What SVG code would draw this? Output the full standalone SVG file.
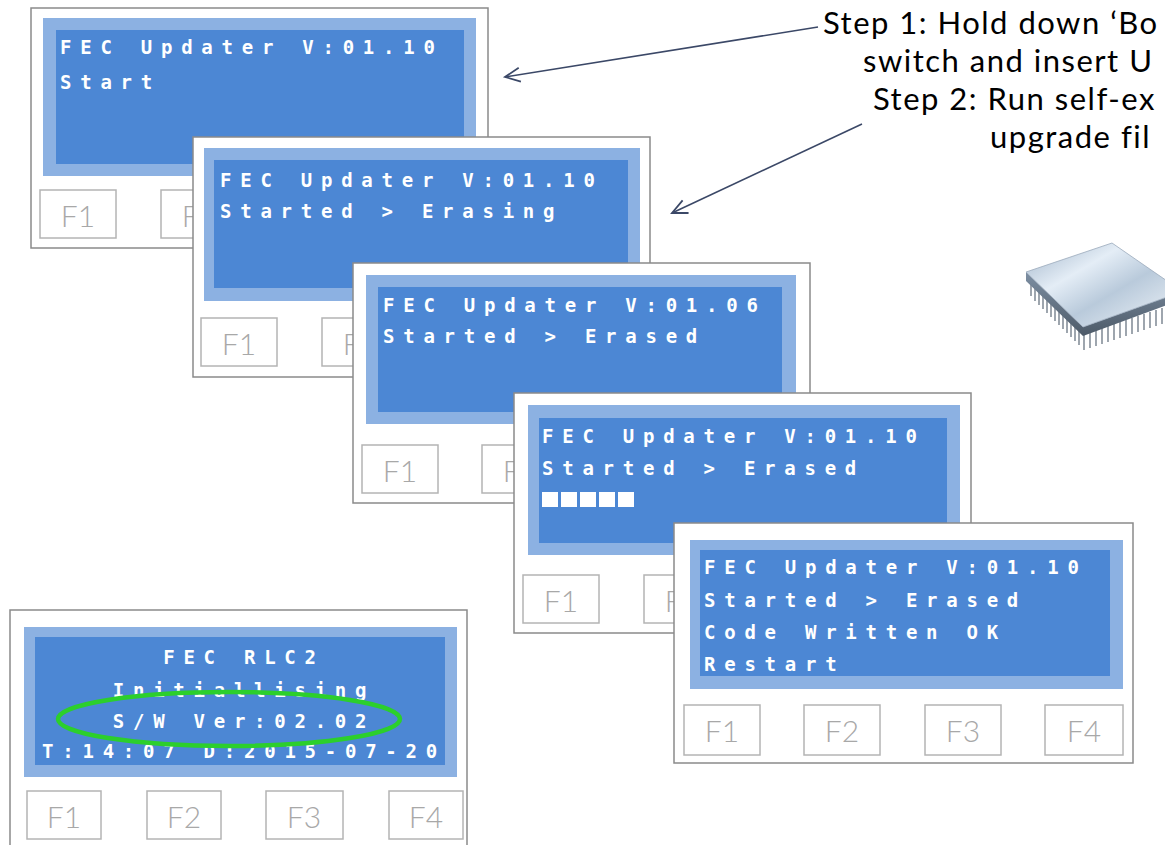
<svg xmlns="http://www.w3.org/2000/svg" width="1165" height="845" viewBox="0 0 1165 845">
  <style>
    .frame { fill: #ffffff; stroke: #8a8a8a; stroke-width: 1.5; }
    .band { fill: #8cb1e2; }
    .screen { fill: #4c87d4; }
    .key { fill: #ffffff; stroke: #b4b4b4; stroke-width: 1.5; }
    .keytxt { font-family: Lato, "Liberation Sans", sans-serif; font-weight: 300; font-size: 30px; fill: #a8a8a8; text-anchor: middle; }
    .lcd { font-family: "DejaVu Sans Mono", monospace; font-weight: bold; font-size: 19px; letter-spacing: 8.75px; fill: #ffffff; }
    .lcdc { text-anchor: middle; }
    .block { fill: #ffffff; }
    .note { font-family: Lato, "Liberation Sans", sans-serif; font-size: 31px; letter-spacing: 1.5px; fill: #000000; }
    .conn { fill: none; stroke: #3b4867; stroke-width: 1.6; }
    .ring { fill: none; stroke: #2ccf2c; stroke-width: 4.5; }
  </style>
  <defs>
    <marker id="openHead" markerUnits="userSpaceOnUse" markerWidth="30" markerHeight="30" viewBox="-20 -15 30 30" refX="0" refY="0" orient="auto" overflow="visible">
      <path d="M-15,-7 L0,0 L-15,7" fill="none" stroke="#3b4867" stroke-width="1.8"/>
    </marker>
    <linearGradient id="chipTop" x1="0" y1="0" x2="1" y2="1">
      <stop offset="0" stop-color="#9fb3c8"/>
      <stop offset="0.35" stop-color="#e4edf6"/>
      <stop offset="0.6" stop-color="#b9cadb"/>
      <stop offset="1" stop-color="#eef3f8"/>
    </linearGradient>
    <linearGradient id="chipSide" x1="0" y1="0" x2="0" y2="1">
      <stop offset="0" stop-color="#7d8fa3"/>
      <stop offset="1" stop-color="#4d5a68"/>
    </linearGradient>
  </defs>

  <!-- display 1: start -->
  <g id="screen-start" transform="translate(31,8)">
    <rect class="frame" x="0" y="0" width="457" height="240"/>
    <rect class="band" x="12" y="10" width="433" height="158"/>
    <rect class="screen" x="25" y="22" width="408" height="134"/>
    <text class="lcd" x="29" y="46">FEC Updater V:01.10</text>
    <text class="lcd" x="29" y="81">Start</text>
    <rect class="key" x="9" y="182" width="76" height="48"/>
    <text class="keytxt" x="47" y="219">F1</text>
    <rect class="key" x="130" y="182" width="76" height="48"/>
    <text class="keytxt" x="168" y="219">F2</text>
  </g>

  <!-- display 2: erasing -->
  <g id="screen-erasing" transform="translate(193,137)">
    <rect class="frame" x="0" y="0" width="457" height="240"/>
    <rect class="band" x="11" y="11" width="436" height="153"/>
    <rect class="screen" x="21" y="23" width="414" height="128"/>
    <text class="lcd" x="27" y="50">FEC Updater V:01.10</text>
    <text class="lcd" x="27" y="81">Started &gt; Erasing</text>
    <rect class="key" x="8" y="181" width="76" height="48"/>
    <text class="keytxt" x="46" y="218">F1</text>
    <rect class="key" x="129" y="181" width="76" height="48"/>
    <text class="keytxt" x="167" y="218">F2</text>
  </g>

  <!-- display 3: erased -->
  <g id="screen-erased" transform="translate(353,263)">
    <rect class="frame" x="0" y="0" width="457" height="240"/>
    <rect class="band" x="13" y="12" width="430" height="149"/>
    <rect class="screen" x="25" y="24" width="404" height="125"/>
    <text class="lcd" x="30" y="49">FEC Updater V:01.06</text>
    <text class="lcd" x="30" y="80">Started &gt; Erased</text>
    <rect class="key" x="9" y="182" width="76" height="48"/>
    <text class="keytxt" x="47" y="219">F1</text>
    <rect class="key" x="129" y="182" width="76" height="48"/>
    <text class="keytxt" x="167" y="219">F2</text>
  </g>

  <!-- display 4: writing progress -->
  <g id="screen-writing" transform="translate(514,393)">
    <rect class="frame" x="0" y="0" width="457" height="240"/>
    <rect class="band" x="14" y="12" width="432" height="150"/>
    <rect class="screen" x="25" y="25" width="408" height="125"/>
    <text class="lcd" x="28" y="50">FEC Updater V:01.10</text>
    <text class="lcd" x="28" y="82">Started &gt; Erased</text>
    <rect class="block" x="28" y="99" width="16" height="15"/>
    <rect class="block" x="47" y="99" width="16" height="15"/>
    <rect class="block" x="66" y="99" width="16" height="15"/>
    <rect class="block" x="85" y="99" width="16" height="15"/>
    <rect class="block" x="104" y="99" width="16" height="15"/>
    <rect class="key" x="9" y="182" width="76" height="48"/>
    <text class="keytxt" x="47" y="219">F1</text>
    <rect class="key" x="130" y="182" width="76" height="48"/>
    <text class="keytxt" x="168" y="219">F2</text>
  </g>

  <!-- display 5: code written -->
  <g id="screen-written" transform="translate(674,523)">
    <rect class="frame" x="0" y="0" width="459" height="240"/>
    <rect class="band" x="16" y="17" width="433" height="149"/>
    <rect class="screen" x="26" y="27" width="410" height="126"/>
    <text class="lcd" x="30" y="51">FEC Updater V:01.10</text>
    <text class="lcd" x="30" y="84">Started &gt; Erased</text>
    <text class="lcd" x="30" y="116">Code Written OK</text>
    <text class="lcd" x="30" y="148">Restart</text>
    <rect class="key" x="10" y="182" width="76" height="50"/>
    <text class="keytxt" x="48" y="219">F1</text>
    <rect class="key" x="130" y="182" width="76" height="50"/>
    <text class="keytxt" x="168" y="219">F2</text>
    <rect class="key" x="251" y="182" width="76" height="50"/>
    <text class="keytxt" x="289" y="219">F3</text>
    <rect class="key" x="371" y="182" width="78" height="50"/>
    <text class="keytxt" x="410" y="219">F4</text>
  </g>

  <!-- display 6: application boot screen -->
  <g id="screen-boot" transform="translate(10,610)">
    <rect class="frame" x="0" y="0" width="457" height="245"/>
    <rect class="band" x="14" y="17" width="433" height="150"/>
    <rect class="screen" x="25" y="27" width="410" height="128"/>
    <text class="lcd lcdc" x="234" y="54">FEC RLC2</text>
    <text class="lcd lcdc" x="234" y="87">Initiallising</text>
    <text class="lcd lcdc" x="234" y="118">S/W Ver:02.02</text>
    <text class="lcd lcdc" x="234" y="148">T:14:07 D:2015-07-20</text>
    <rect class="key" x="17" y="181" width="74" height="48"/>
    <text class="keytxt" x="54" y="218">F1</text>
    <rect class="key" x="137" y="181" width="74" height="48"/>
    <text class="keytxt" x="174" y="218">F2</text>
    <rect class="key" x="256" y="181" width="77" height="48"/>
    <text class="keytxt" x="294" y="218">F3</text>
    <rect class="key" x="379" y="181" width="74" height="48"/>
    <text class="keytxt" x="416" y="218">F4</text>
    <ellipse class="ring" cx="219" cy="109" rx="171" ry="27"/>
  </g>

  <!-- instructions -->
  <g id="steps">
    <text class="note" x="823" y="34">Step 1: Hold down ‘Bo</text>
    <text class="note" x="863" y="72">switch and insert U</text>
    <text class="note" x="873" y="110">Step 2: Run self-ex</text>
    <text class="note" x="990" y="148">upgrade fil</text>
  </g>

  <!-- microcontroller chip -->
  <g id="chip">
    <g stroke="#8d96a0" stroke-width="1.7">
      <line x1="1031" y1="282" x2="1031" y2="296"/>
      <line x1="1035" y1="287" x2="1035" y2="301"/>
      <line x1="1039" y1="291" x2="1039" y2="305"/>
      <line x1="1043" y1="295" x2="1043" y2="309"/>
      <line x1="1047" y1="299" x2="1047" y2="313"/>
      <line x1="1051" y1="303" x2="1051" y2="317"/>
      <line x1="1055" y1="307" x2="1055" y2="321"/>
      <line x1="1059" y1="311" x2="1059" y2="325"/>
      <line x1="1063" y1="315" x2="1063" y2="329"/>
      <line x1="1067" y1="319" x2="1067" y2="333"/>
      <line x1="1071" y1="323" x2="1071" y2="337"/>
      <line x1="1075" y1="327" x2="1075" y2="341"/>
      <line x1="1079" y1="331" x2="1079" y2="345"/>
      <line x1="1084" y1="334" x2="1084" y2="350"/>
      <line x1="1090" y1="332" x2="1090" y2="348"/>
      <line x1="1096" y1="330" x2="1096" y2="346"/>
      <line x1="1102" y1="328" x2="1102" y2="344"/>
      <line x1="1108" y1="326" x2="1108" y2="342"/>
      <line x1="1114" y1="324" x2="1114" y2="340"/>
      <line x1="1120" y1="322" x2="1120" y2="338"/>
      <line x1="1126" y1="320" x2="1126" y2="336"/>
      <line x1="1132" y1="318" x2="1132" y2="334"/>
      <line x1="1138" y1="316" x2="1138" y2="332"/>
      <line x1="1144" y1="314" x2="1144" y2="330"/>
      <line x1="1150" y1="312" x2="1150" y2="328"/>
      <line x1="1156" y1="310" x2="1156" y2="326"/>
      <line x1="1162" y1="308" x2="1162" y2="324"/>
    </g>
    <polygon points="1026,272 1083,327 1170,296 1170,304 1083,336 1026,281" fill="url(#chipSide)"/>
    <polygon points="1026,272 1112,243 1170,283 1170,296 1083,327" fill="url(#chipTop)" stroke="#9aaabb" stroke-width="0.8"/>
  </g>

  <!-- pointers from the steps to the screens -->
  <g id="connectors">
    <line class="conn" x1="818" y1="27" x2="505" y2="77" marker-end="url(#openHead)"/>
    <line class="conn" x1="862" y1="124" x2="672" y2="213" marker-end="url(#openHead)"/>
  </g>
</svg>
